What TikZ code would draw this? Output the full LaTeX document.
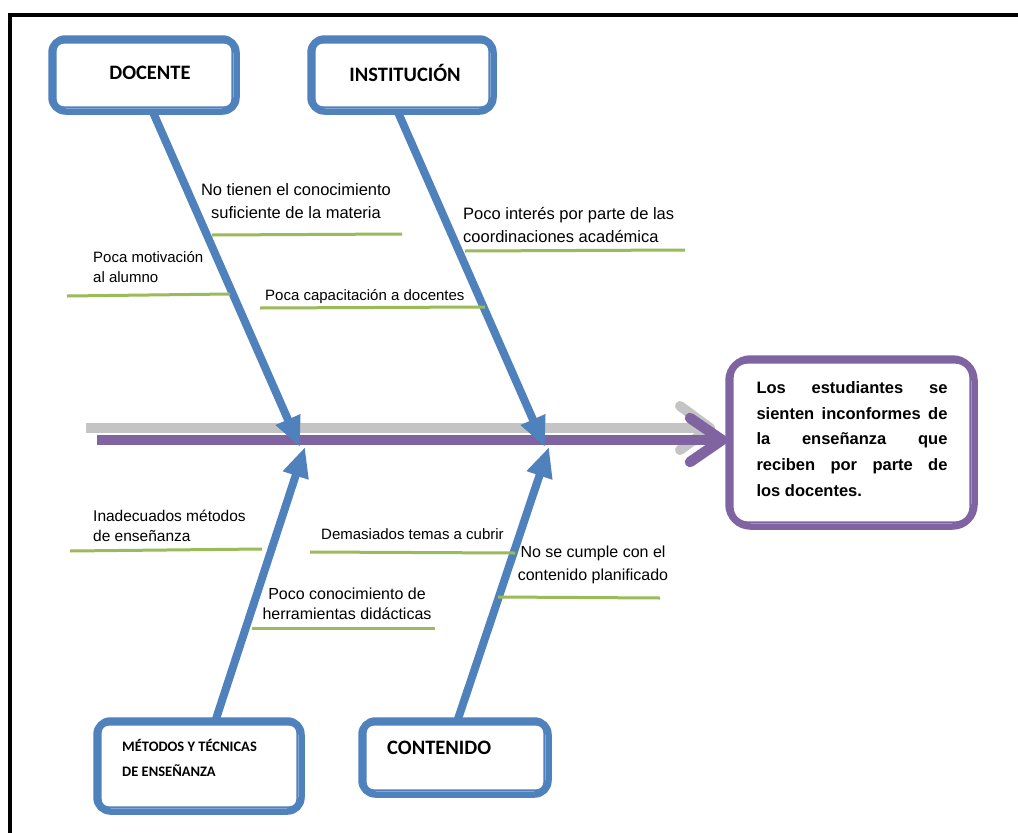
\documentclass[tikz,border=0pt]{standalone}
\usepackage{fontspec}
\setmainfont{Liberation Sans}
\newfontfamily\calib{Carlito}
\usetikzlibrary{arrows.meta}
\definecolor{bblue}{RGB}{79,129,189}
\definecolor{ppurple}{RGB}{128,100,162}
\definecolor{ggreen}{RGB}{155,187,89}
\definecolor{ggray}{RGB}{196,196,196}
\begin{document}
\begin{tikzpicture}[x=1pt,y=-1pt,
  catbox/.style={draw=bblue, line width=6.5pt, rounded corners=14pt, fill=white, inner sep=0pt},
  effbox/.style={draw=ppurple, line width=6.5pt, rounded corners=22pt, fill=white, inner sep=0pt},
  innerblue/.style={bblue, line width=1.8pt, rounded corners=8pt},
  innerpurple/.style={ppurple, line width=1.8pt, rounded corners=15pt},
  boxlab/.style={font=\calib\bfseries\fontsize{20.5}{24}\selectfont, inner sep=0pt},
  lab/.style={font=\fontsize{16}{20}\selectfont, inner sep=0pt},
  bone/.style={bblue, line width=8pt, -{Triangle[length=30pt,width=25pt]}},
  sub/.style={ggreen, line width=3pt},
  spinegray/.style={ggray, line width=10pt},
  spinepurple/.style={ppurple, line width=10.5pt},
]
\useasboundingbox (0,0) rectangle (1018,833);
\fill[white] (0,0) rectangle (1018,833);
% frame
\draw[black, line width=3.5pt] (10,833) -- (10,15) -- (1018,15);

% spine
\coordinate (gL) at (86,428); \coordinate (gR) at (706,428);
\coordinate (gA) at (680,406); \coordinate (gT) at (710,428); \coordinate (gB) at (680,450);
\draw[spinegray] (gL) -- (gR);
\draw[spinegray, line cap=round, line join=round] (gA) -- (gT) -- (gB);
\coordinate (pL) at (97,440); \coordinate (pR) at (718,440);
\coordinate (pA) at (690,418); \coordinate (pT) at (722,440); \coordinate (pB) at (690,462);
\draw[spinepurple] (pL) -- (pR);
\draw[spinepurple, line cap=round, line join=round] (pA) -- (pT) -- (pB);

% bones
\coordinate (docS) at (152,110); \coordinate (docT) at (300,447);
\coordinate (insS) at (397,110); \coordinate (insT) at (545,447);
\coordinate (metS) at (215,722); \coordinate (metT) at (305,447);
\coordinate (conS) at (457,722); \coordinate (conT) at (549,447);
\draw[bone] (docS) -- (docT);
\draw[bone] (insS) -- (insT);
\draw[bone] (metS) -- (metT);
\draw[bone] (conS) -- (conT);

% category boxes
\node[catbox, minimum width=185pt, minimum height=73pt] (docB) at (144,75) {};
\draw[innerblue] ([shift={(7.5,7.5)}]docB.north west) rectangle ([shift={(-7.5,-7.5)}]docB.south east);
\node[boxlab] (docL) at (150,73) {DOCENTE};

\node[catbox, minimum width=183pt, minimum height=73pt] (insB) at (402,75) {};
\draw[innerblue] ([shift={(7.5,7.5)}]insB.north west) rectangle ([shift={(-7.5,-7.5)}]insB.south east);
\node[boxlab] (insL) at (405,73) {INSTITUCIÓN};

\node[catbox, minimum width=205pt, minimum height=91pt] (metB) at (199,766) {};
\draw[innerblue] ([shift={(7.5,7.5)}]metB.north west) rectangle ([shift={(-7.5,-7.5)}]metB.south east);
\node[font=\calib\bfseries\fontsize{14.5}{25}\selectfont, inner sep=0pt, align=left, anchor=west] (metL) at (122,757.5) {MÉTODOS Y TÉCNICAS\\DE ENSEÑANZA};

\node[catbox, minimum width=187pt, minimum height=74pt] (conB) at (455,757.5) {};
\draw[innerblue] ([shift={(7.5,7.5)}]conB.north west) rectangle ([shift={(-7.5,-7.5)}]conB.south east);
\node[boxlab, anchor=west] (conL) at (387,748) {CONTENIDO};

% effect box
\node[effbox, minimum width=246pt, minimum height=168pt] (effB) at (851.5,442.5) {};
\draw[innerpurple] ([shift={(7.5,7.5)}]effB.north west) rectangle ([shift={(-7.5,-7.5)}]effB.south east);
\node[font=\bfseries\fontsize{16.5}{25.7}\selectfont, inner sep=0pt, text width=191pt, align=justify] (effT) at (852,439)
  {\hyphenpenalty=10000\tolerance=10000 Los estudiantes se\linebreak sienten inconformes de\linebreak la enseñanza que\linebreak reciben por parte de\linebreak los docentes.};

% sub-causes
\draw[sub] (212,235) -- (402,234);
\node[lab, align=center, font=\fontsize{16.5}{23}\selectfont] (s1) at (296,201) {No tienen el conocimiento\\suficiente de la materia};
\draw[sub] (67,296) -- (230,294);
\node[lab, align=left, anchor=west, font=\fontsize{15}{20}\selectfont] (s2) at (93,267) {Poca motivación\\al alumno};
\draw[sub] (260,308) -- (485,307);
\node[lab, anchor=west, font=\fontsize{15}{20}\selectfont] (s3) at (265,297) {Poca capacitación a docentes};
\draw[sub] (465,251) -- (685,250);
\node[lab, align=left, anchor=west, font=\fontsize{16.5}{23}\selectfont] (s4) at (463,225) {Poco interés por parte de las\\coordinaciones académica};
\draw[sub] (70,551) -- (262,549);
\node[lab, align=left, anchor=west, font=\fontsize{15.5}{20}\selectfont] (s5) at (93,526) {Inadecuados métodos\\de enseñanza};
\draw[sub] (310,552) -- (515,553);
\node[lab, anchor=west, font=\fontsize{15}{20}\selectfont] (s6) at (321,534) {Demasiados temas a cubrir};
\draw[sub] (498,597) -- (660,598);
\node[lab, align=center, font=\fontsize{16}{23}\selectfont] (s7) at (593,565) {No se cumple con el\\contenido planificado};
\draw[sub] (252,628) -- (435,628);
\node[lab, align=center] (s8) at (347,604) {Poco conocimiento de\\herramientas didácticas};
\end{tikzpicture}
\end{document}
